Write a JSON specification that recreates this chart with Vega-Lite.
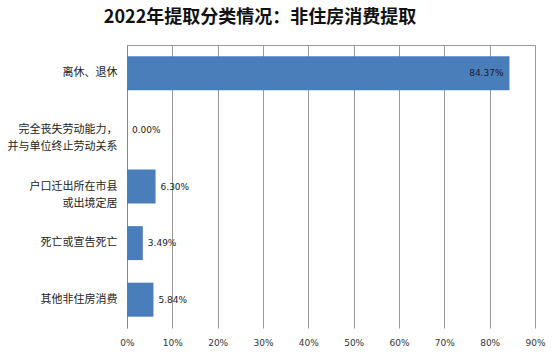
{
  "$schema": "https://vega.github.io/schema/vega-lite/v6.json",
  "width": 408,
  "height": 283,
  "autosize": {"type": "none"},
  "padding": {"left": 127, "top": 45, "right": 19, "bottom": 27},
  "background": "white",
  "title": {
    "text": "2022年提取分类情况：非住房消费提取",
    "font": "Noto Sans CJK SC",
    "fontSize": 18,
    "fontWeight": "bold",
    "color": "#111111",
    "anchor": "middle",
    "frame": "group",
    "dx": -71,
    "offset": 18
  },
  "config": {"view": {"stroke": null}},
  "data": {
    "values": [
      {"category": "离休、退休", "share": 0.8437},
      {"category": "完全丧失劳动能力，|并与单位终止劳动关系", "share": 0.0},
      {"category": "户口迁出所在市县|或出境定居", "share": 0.063},
      {"category": "死亡或宣告死亡", "share": 0.0349},
      {"category": "其他非住房消费", "share": 0.0584}
    ]
  },
  "resolve": {"axis": {"x": "independent"}},
  "layer": [
    {
      "mark": {"type": "bar", "color": "#4a7ebb", "strokeWidth": 0},
      "encoding": {
        "y": {
          "field": "category",
          "type": "nominal",
          "sort": null,
          "scale": {"paddingInner": 0.4, "paddingOuter": 0.2},
          "axis": {
            "title": null,
            "labelExpr": "split(datum.label, '|')",
            "labelFont": "Noto Sans CJK SC",
            "labelFontSize": 11,
            "labelColor": "#222222",
            "labelLineHeight": 17,
            "labelPadding": 10,
            "labelLimit": 200,
            "ticks": false,
            "domain": true,
            "domainColor": "#888888",
            "grid": false
          }
        },
        "x": {
          "field": "share",
          "type": "quantitative",
          "scale": {"domain": [0, 0.9], "nice": false},
          "axis": {
            "title": null,
            "format": "%",
            "values": [0, 0.1, 0.2, 0.3, 0.4, 0.5, 0.6, 0.7, 0.8, 0.9],
            "grid": true,
            "gridColor": "#999999",
            "domain": false,
            "ticks": false,
            "labelFlush": false,
            "labelOverlap": false,
            "labelFont": "DejaVu Sans",
            "labelFontSize": 9,
            "labelColor": "#333333",
            "labelPadding": 10
          }
        }
      }
    },
    {
      "transform": [{"filter": "datum.share > 0.5"}],
      "mark": {"type": "text", "align": "right", "dx": -6, "font": "DejaVu Sans", "fontSize": 9, "color": "#1a1a2e"},
      "encoding": {
        "y": {"field": "category", "type": "nominal", "sort": null},
        "x": {
          "field": "share",
          "type": "quantitative",
          "axis": {
            "orient": "top",
            "title": null,
            "labels": false,
            "ticks": false,
            "grid": false,
            "domain": true,
            "domainColor": "#999999"
          }
        },
        "text": {"field": "share", "type": "quantitative", "format": ".2%"}
      }
    },
    {
      "transform": [{"filter": "datum.share <= 0.5"}],
      "mark": {"type": "text", "align": "left", "dx": 5, "font": "DejaVu Sans", "fontSize": 9, "color": "#1a1a1a"},
      "encoding": {
        "y": {"field": "category", "type": "nominal", "sort": null},
        "x": {"field": "share", "type": "quantitative", "axis": null},
        "text": {"field": "share", "type": "quantitative", "format": ".2%"}
      }
    }
  ]
}
